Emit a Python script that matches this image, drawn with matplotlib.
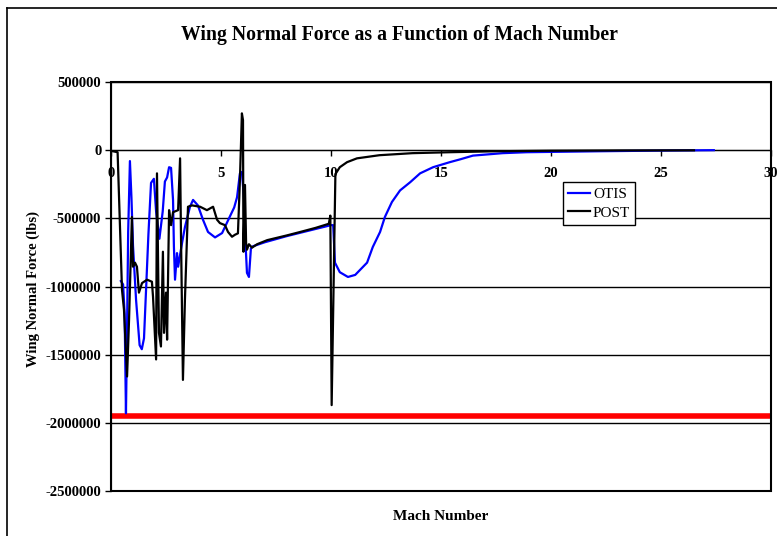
import matplotlib
matplotlib.use("Agg")
import matplotlib.pyplot as plt
from matplotlib.lines import Line2D
from matplotlib.patches import Rectangle

plt.rcParams['font.family'] = 'Liberation Serif'

# POST trajectory: wing normal force [lbs] vs Mach
POST_MACH = [0.0, 0.3, 0.5, 0.59, 0.73, 0.82, 0.95, 1.0, 1.09, 1.18, 1.27, 1.41,
             1.64, 1.86, 1.91, 2.05, 2.09, 2.18, 2.27, 2.36, 2.41, 2.5, 2.55,
             2.64, 2.73, 2.82, 3.05, 3.14, 3.18, 3.27, 3.36, 3.5, 3.68, 4.05,
             4.36, 4.64, 4.82, 4.95, 5.18, 5.32, 5.5, 5.64, 5.77, 5.86, 5.95,
             6.0, 6.02, 6.09, 6.14, 6.18, 6.27, 6.41, 6.64, 7.1, 8.0, 8.6,
             9.3, 9.9, 9.97, 10.03, 10.2, 10.4, 10.73, 11.18, 12.2, 13.7, 15.4,
             17.5, 20.0, 23.0, 26.5]
POST_FORCE = [-5000, -15000, -1025000, -1170000, -1660000, -1245000, -490000,
              -855000, -825000, -855000, -1045000, -975000, -950000, -965000,
              -1075000, -1535000, -170000, -1340000, -1440000, -745000, -1340000,
              -1045000, -1390000, -440000, -550000, -455000, -440000, -60000,
              -610000, -1685000, -1100000, -415000, -405000, -415000, -440000,
              -415000, -510000, -535000, -550000, -600000, -635000, -620000,
              -610000, -220000, 270000, 220000, -745000, -255000, -680000,
              -730000, -690000, -715000, -690000, -660000, -625000, -600000,
              -570000, -540000, -480000, -1870000, -175000, -125000, -88000,
              -60000, -37000, -22000, -15000, -8000, -4000, -2000, -1000]

# OTIS trajectory
OTIS_MACH = [0.45, 0.55, 0.62, 0.68, 0.72, 0.78, 0.86, 0.93, 1.0, 1.14, 1.3, 1.4,
             1.5, 1.6, 1.7, 1.82, 1.95, 2.05, 2.2, 2.35, 2.45, 2.55, 2.64, 2.73,
             2.82, 2.86, 2.91, 3.0, 3.05, 3.23, 3.36, 3.59, 3.73, 3.95, 4.18,
             4.41, 4.73, 5.05, 5.32, 5.6, 5.73, 5.86, 5.95, 6.05, 6.12, 6.18,
             6.27, 6.36, 6.45, 7.0, 8.0, 9.0, 10.0, 10.1, 10.18, 10.4, 10.77,
             11.1, 11.4, 11.64, 11.9, 12.23, 12.45, 12.77, 13.14, 13.6, 14.05,
             14.64, 15.4, 15.9, 16.45, 17.8, 18.9, 22.2, 25.0, 27.4]
OTIS_FORCE = [-960000, -985000, -1200000, -1930000, -1450000, -600000, -80000,
              -350000, -700000, -1100000, -1430000, -1460000, -1380000, -1000000,
              -620000, -240000, -210000, -450000, -650000, -450000, -230000,
              -200000, -125000, -130000, -366000, -710000, -950000, -755000,
              -855000, -680000, -565000, -415000, -365000, -405000, -510000,
              -600000, -640000, -608000, -515000, -420000, -345000, -170000,
              -160000, -365000, -700000, -900000, -930000, -720000, -705000,
              -675000, -630000, -590000, -550000, -550000, -825000, -895000,
              -930000, -915000, -865000, -825000, -710000, -600000, -490000,
              -380000, -295000, -235000, -170000, -125000, -88000, -66000,
              -40000, -22000, -15000, -8000, -3000, 0]

LIMIT_FORCE = -1950000          # structural limit
X_TICKS = [0, 5, 10, 15, 20, 25, 30]
Y_TICKS = [500000, 0, -500000, -1000000, -1500000, -2000000, -2500000]

fig = plt.figure(figsize=(7.77, 5.36), dpi=100)
ax = fig.add_axes([111 / 777, 1 - 491 / 536, 660 / 777, 409 / 536])

# chart-area border (left and top edges)
fig.add_artist(Line2D([7 / 777, 7 / 777], [-0.1, 1 - 8 / 536], transform=fig.transFigure,
                      color='black', lw=1.2))
fig.add_artist(Line2D([7 / 777, 1.1], [1 - 8 / 536, 1 - 8 / 536], transform=fig.transFigure,
                      color='black', lw=1.2))

for y in Y_TICKS:
    ax.axhline(y, color='black', lw=1.0, zorder=1)

ax.plot([0, 30], [LIMIT_FORCE, LIMIT_FORCE], color='#ff0000', lw=4.0, zorder=2)
ax.plot(OTIS_MACH, OTIS_FORCE, color='#0000ff', lw=1.6, label='OTIS', zorder=3)
ax.plot(POST_MACH, POST_FORCE, color='black', lw=1.6, label='POST', zorder=4)

ax.set_xlim(0, 30)
ax.set_ylim(-2500000, 500000)

ax.spines['bottom'].set_position(('data', 0))
for s in ('top', 'right'):
    ax.spines[s].set_visible(False)
ax.add_patch(Rectangle((0, 0), 1, 1, transform=ax.transAxes, fill=False,
                       lw=1.5, color='black', zorder=5, clip_on=False))

ax.set_xticks(X_TICKS)
ax.set_xticklabels([str(v) for v in X_TICKS], fontweight='bold', fontsize=10.5)
ax.set_yticks(Y_TICKS)
ax.set_yticklabels([str(v) for v in Y_TICKS], fontweight='bold', fontsize=10.5)
ax.tick_params(axis='x', direction='out', length=4, width=1, pad=8)
ax.tick_params(axis='y', direction='out', length=4, width=1, pad=3)

fig.text(399 / 777, 1 - 35 / 536, 'Wing Normal Force as a Function of Mach Number',
         ha='center', va='center', fontsize=14.2, fontweight='bold')
fig.text(441 / 777, 1 - 516 / 536, 'Mach Number', ha='center', va='center',
         fontsize=11, fontweight='bold')
fig.text(33 / 777, 1 - 289 / 536, 'Wing Normal Force (lbs)', ha='center', va='center',
         rotation=90, fontsize=10.5, fontweight='bold')

leg = ax.legend(loc='upper left', bbox_to_anchor=(0.685, 0.755), fontsize=11,
                frameon=True, fancybox=False, edgecolor='black', framealpha=1,
                handlelength=1.4, handletextpad=0.2, borderpad=0.35, labelspacing=0.3,
                borderaxespad=0)
leg.get_frame().set_linewidth(1.0)
leg.set_zorder(6)

fig.savefig('out.png', dpi=100)
